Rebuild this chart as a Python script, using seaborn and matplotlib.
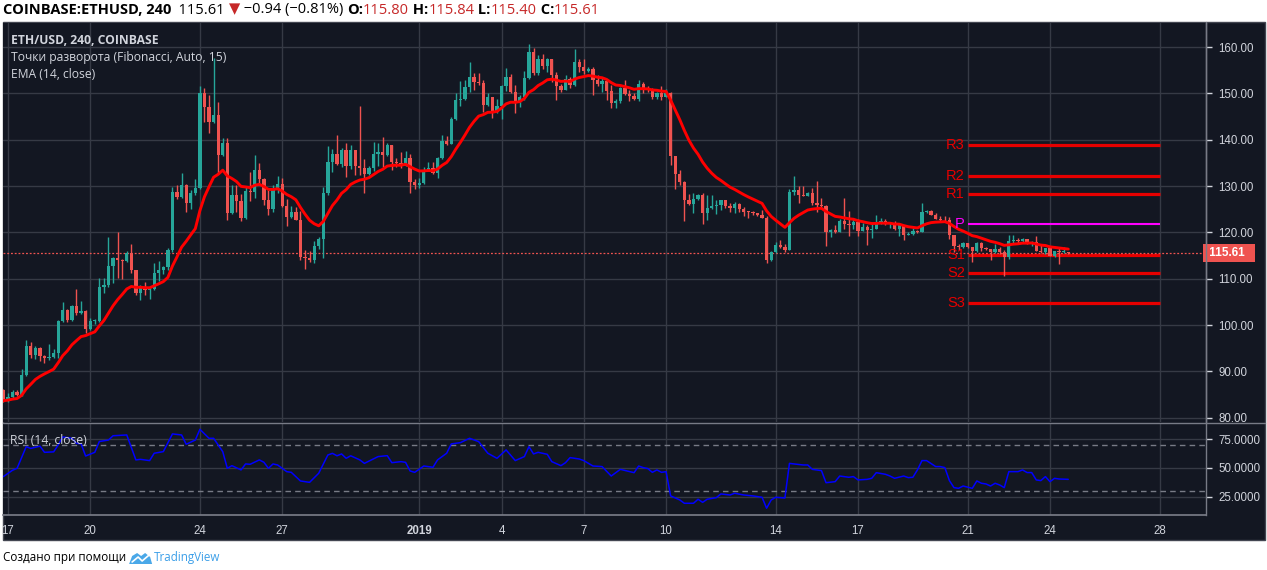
import numpy as np
import pandas as pd
import matplotlib
matplotlib.use('Agg')
from matplotlib import pyplot as plt
import matplotlib.transforms as mtransforms
from matplotlib.patches import Rectangle, Polygon
from matplotlib.lines import Line2D
import seaborn as sns

# --- data (4h candles, first bar 2018-12-16 20:00) ---
first_open = 86.1
closes = [83.7, 84.6, 85.5, 85.0, 89.3, 95.4, 93.6, 95.0, 93.3, 93.0, 93.2, 93.9, 101.0, 103.3, 101.2, 104.2,
          102.6, 103.1, 99.2, 100.9, 101.0, 108.3, 108.6, 112.8, 114.5, 114.1, 113.9, 115.5, 111.9, 106.9, 108.3,
          107.5, 107.9, 111.2, 111.8, 112.5, 116.2, 128.8, 127.7, 130.3, 126.3, 128.5, 129.5, 150.0, 147.1, 143.9,
          145.3, 136.7, 139.2, 124.1, 128.1, 126.8, 123.1, 129.0, 128.8, 133.5, 131.6, 127.0, 125.1, 129.2, 130.5,
          125.7, 123.4, 124.5, 122.7, 114.8, 114.5, 114.1, 117.0, 118.5, 128.5, 135.3, 136.9, 134.8, 137.8, 134.4,
          137.7, 134.4, 134.0, 132.6, 134.0, 136.9, 137.4, 136.7, 138.9, 135.3, 134.9, 134.4, 136.1, 130.8, 130.3,
          130.6, 133.5, 133.9, 132.9, 136.1, 139.7, 139.1, 144.5, 148.6, 148.9, 151.3, 153.5, 152.5, 152.3, 147.5,
          149.2, 146.1, 147.3, 151.6, 153.6, 150.4, 147.9, 149.3, 153.3, 158.9, 154.5, 157.4, 155.9, 157.4, 154.0,
          151.6, 150.7, 153.2, 151.8, 156.7, 155.6, 154.9, 155.3, 152.9, 152.0, 152.7, 150.6, 147.9, 148.4, 151.1,
          149.9, 149.5, 148.8, 152.0, 150.9, 150.7, 149.3, 150.2, 149.3, 150.0, 136.4, 132.6, 130.8, 126.9, 126.2,
          127.2, 128.1, 124.3, 125.2, 125.7, 126.0, 127.0, 125.7, 125.2, 126.1, 125.1, 124.5, 124.4, 124.2, 123.8,
          123.2, 114.1, 115.7, 117.3, 116.8, 116.2, 128.7, 129.1, 128.1, 127.9, 128.5, 126.3, 125.9, 125.7, 120.0,
          120.6, 120.0, 122.5, 121.9, 121.7, 122.2, 120.4, 121.1, 120.6, 120.8, 122.1, 122.5, 121.8, 122.0, 120.7,
          121.6, 119.5, 119.6, 120.3, 120.1, 124.5, 124.6, 123.8, 122.9, 122.7, 122.6, 119.5, 117.0, 116.8, 117.7,
          116.8, 115.9, 117.8, 116.6, 116.4, 115.7, 116.5, 115.7, 114.8, 118.2, 118.3, 118.1, 118.6, 117.7, 118.0,
          116.1, 115.7, 116.6, 115.0, 116.0, 115.8, 115.8, 115.61]
highs = [86.2, 85.3, 85.9, 85.9, 90.5, 96.9, 96.3, 95.6, 95.2, 93.5, 96.0, 94.8, 101.2, 104.9, 103.4, 104.4,
         107.8, 105.3, 103.2, 101.5, 101.4, 110.2, 110.2, 119.1, 114.6, 120.2, 114.3, 115.9, 117.6, 112.0, 108.6,
         109.3, 108.3, 113.4, 113.8, 112.7, 116.6, 129.9, 130.2, 132.9, 130.4, 129.2, 131.6, 151.5, 151.1, 149.7,
         157.6, 148.2, 140.3, 140.3, 130.2, 130.2, 128.2, 129.8, 133.1, 136.7, 135.0, 131.7, 129.2, 130.3, 132.1,
         131.7, 127.2, 125.7, 125.6, 124.7, 116.3, 116.0, 118.1, 119.0, 129.9, 138.7, 138.1, 141.0, 138.2, 139.2,
         138.9, 137.8, 147.3, 135.8, 134.4, 139.5, 139.2, 140.7, 139.3, 138.9, 136.1, 137.3, 137.6, 136.9, 131.5,
         131.7, 134.2, 135.3, 135.3, 136.3, 141.0, 140.8, 145.0, 150.0, 152.7, 153.0, 156.7, 154.4, 154.4, 152.8,
         150.0, 149.3, 148.7, 151.8, 155.4, 154.3, 151.8, 149.6, 154.9, 160.6, 159.8, 158.3, 158.6, 157.7, 157.4,
         154.6, 152.0, 153.9, 153.6, 159.6, 157.4, 157.4, 155.8, 155.6, 153.9, 153.4, 152.8, 151.8, 148.8, 151.4,
         152.9, 150.7, 150.0, 152.9, 152.5, 151.6, 151.1, 150.4, 151.6, 150.9, 150.4, 136.5, 133.4, 131.1, 128.4,
         128.6, 128.2, 128.5, 128.0, 128.1, 127.1, 127.1, 127.1, 126.3, 126.6, 126.3, 125.6, 124.7, 124.6, 124.3,
         124.8, 123.6, 116.1, 118.0, 118.3, 117.6, 129.4, 132.2, 130.0, 130.0, 128.7, 129.5, 131.0, 127.4, 125.9,
         120.8, 121.6, 123.0, 127.4, 124.6, 123.0, 123.0, 122.0, 121.7, 121.9, 123.7, 123.2, 123.0, 122.2, 122.4,
         122.0, 121.4, 120.1, 120.9, 120.5, 126.4, 124.9, 124.9, 124.2, 123.5, 123.5, 123.4, 119.5, 117.6, 118.0,
         117.7, 116.9, 118.0, 118.0, 116.8, 116.5, 117.5, 116.8, 116.3, 119.5, 119.5, 118.8, 118.8, 118.6, 118.1,
         119.2, 117.6, 116.6, 116.8, 116.0, 116.6, 116.8, 115.84]
lows = [83.5, 83.5, 84.2, 84.7, 84.8, 89.0, 92.9, 92.8, 92.2, 91.8, 92.5, 93.0, 93.0, 100.7, 100.6, 101.0,
        102.2, 102.3, 98.3, 98.9, 100.3, 100.7, 107.0, 108.2, 109.1, 110.1, 109.9, 113.6, 111.2, 106.6, 105.5,
        106.5, 105.6, 107.6, 109.5, 111.1, 111.9, 115.8, 127.3, 127.5, 124.5, 125.0, 128.0, 129.3, 143.9, 141.5,
        143.7, 132.7, 136.5, 122.7, 124.0, 124.5, 122.4, 123.0, 126.7, 127.4, 130.3, 126.0, 123.7, 124.5, 128.5,
        125.5, 121.4, 123.2, 122.6, 114.1, 112.2, 113.6, 113.5, 116.4, 114.5, 128.1, 133.1, 134.6, 134.1, 131.9,
        133.7, 132.5, 132.5, 128.5, 132.4, 133.2, 134.4, 134.2, 136.5, 133.5, 134.2, 133.9, 134.3, 128.6, 129.3,
        129.5, 130.5, 133.2, 132.7, 131.7, 135.9, 138.9, 139.1, 144.3, 147.2, 148.5, 150.4, 150.7, 151.9, 146.1,
        147.3, 144.6, 145.7, 144.4, 150.5, 150.0, 145.8, 147.1, 148.5, 153.1, 154.0, 154.0, 155.2, 154.7, 152.5,
        148.6, 150.4, 150.7, 151.1, 151.6, 154.7, 154.3, 154.6, 149.7, 151.5, 150.4, 148.6, 146.9, 146.9, 148.0,
        149.7, 148.4, 148.6, 148.4, 150.1, 150.4, 148.9, 148.9, 148.6, 149.3, 134.6, 129.4, 130.2, 122.4, 126.0,
        124.3, 126.9, 121.9, 122.6, 125.1, 123.9, 124.9, 125.2, 124.5, 124.1, 124.5, 123.5, 123.1, 123.7, 123.5,
        123.1, 113.5, 113.9, 115.5, 116.6, 115.8, 116.2, 128.0, 126.3, 127.8, 127.8, 126.0, 124.5, 125.2, 117.0,
        119.1, 119.9, 120.0, 120.7, 119.3, 120.8, 119.3, 120.3, 117.3, 118.8, 120.7, 121.8, 121.6, 121.0, 120.5,
        119.3, 118.3, 119.4, 119.4, 119.9, 120.0, 124.3, 123.7, 122.8, 122.5, 122.4, 118.6, 115.8, 116.2, 116.7,
        116.6, 113.7, 115.7, 116.1, 116.2, 114.1, 115.6, 115.3, 110.5, 114.3, 117.7, 117.8, 118.0, 117.6, 117.1,
        116.0, 115.5, 115.3, 114.9, 114.8, 113.3, 115.6, 115.40]
last_price = 115.61

pivot_names = ['R3', 'R2', 'R1', 'P', 'S1', 'S2', 'S3']
pivot_levels = [138.9, 132.2, 128.3, 121.8, 115.1, 111.3, 104.8]

rsi_bars = [-1, 1, 2, 4, 5, 7, 8, 10, 11, 12, 14, 15, 16, 17, 19, 20, 22, 23, 26, 28, 29, 31, 32, 34, 36, 38, 39,
            41, 42, 44, 45, 47, 48, 49, 51, 52, 53, 55, 56, 57, 58, 59, 61, 62, 64, 66, 68, 70, 71, 72, 73, 74, 75,
            77, 78, 81, 83, 84, 86, 87, 88, 89, 91, 93, 94, 96, 97, 99, 101, 103, 105, 107, 109, 111, 113, 114, 115,
            116, 118, 119, 121, 122, 123, 125, 126, 128, 130, 132, 134, 137, 138, 139, 140, 141, 142, 143, 144, 145,
            147, 148, 150, 151, 152, 153, 155, 156, 158, 159, 161, 163, 165, 166, 167, 168, 170, 171, 172, 174, 175,
            176, 178, 179, 181, 182, 184, 185, 186, 188, 189, 190, 192, 193, 194, 196, 197, 198, 199, 200, 201, 203,
            204, 205, 206, 207, 208, 209, 211, 212, 213, 214, 215, 216, 217, 218, 219, 221, 222, 223, 224, 225, 226,
            227, 228, 229, 230, 232]
rsi_values = [42.5, 48.0, 49.7, 68.5, 67.0, 69.0, 63.6, 64.0, 70.0, 77.0, 75.8, 71.4, 71.0, 60.4, 63.6, 73.0, 74.3,
              78.0, 78.7, 57.0, 57.5, 56.4, 62.8, 64.2, 79.6, 78.7, 70.6, 74.3, 83.6, 75.8, 75.8, 64.2, 49.7, 52.0,
              48.3, 53.5, 53.2, 57.0, 55.0, 49.7, 53.5, 52.6, 46.8, 46.2, 38.7, 37.5, 45.4, 61.3, 62.7, 60.6, 62.2,
              58.4, 60.6, 57.0, 54.0, 59.9, 60.7, 54.6, 55.5, 54.9, 47.4, 46.2, 51.7, 50.6, 57.0, 62.8, 70.9, 72.0,
              75.8, 72.9, 62.8, 58.4, 65.7, 56.4, 59.9, 68.5, 62.2, 63.6, 61.9, 55.5, 52.0, 54.6, 59.0, 57.8, 56.4,
              51.7, 51.2, 43.0, 48.8, 45.9, 51.7, 50.3, 49.5, 46.2, 48.3, 46.2, 46.8, 25.7, 22.2, 19.3, 19.3, 22.8,
              20.1, 22.8, 24.2, 27.4, 26.5, 28.0, 26.5, 25.7, 24.5, 15.0, 22.2, 24.5, 23.9, 54.0, 53.5, 52.6, 52.6,
              48.8, 47.7, 37.2, 38.1, 43.0, 41.9, 42.5, 39.6, 40.1, 41.0, 45.9, 44.5, 43.0, 41.0, 43.0, 41.6, 41.9,
              48.3, 56.4, 56.4, 51.2, 51.2, 50.3, 39.0, 32.9, 32.3, 34.3, 32.3, 38.7, 36.7, 36.1, 34.3, 36.7, 35.2,
              32.9, 46.8, 46.8, 48.3, 46.0, 46.0, 39.6, 39.0, 42.5, 38.1, 41.0, 40.4, 40.1]

tick_dates = ['2018-12-17', '2018-12-20', '2018-12-24', '2018-12-27', '2019-01-01', '2019-01-04', '2019-01-07',
              '2019-01-10', '2019-01-14', '2019-01-17', '2019-01-21', '2019-01-24', '2019-01-28']
tick_labels = ['17', '20', '24', '27', '2019', '4', '7', '10', '14', '17', '21', '24', '28']

BG = '#131722'
GRID = '#363a45'
AXIS = '#787b86'
TXT = '#d1d4dc'
UP = '#26a69a'
DOWN = '#ef5350'

sns.set_theme(style='dark', rc={'axes.facecolor': BG, 'figure.facecolor': 'white'})
plt.rcParams['font.family'] = ['Open Sans', 'DejaVu Sans']

W, H = 1267, 570


def fx(x):
    return x / W


def fy(y):
    return 1 - y / H


fig = plt.figure(figsize=(W / 100, H / 100), dpi=100)
fig.patches.append(Rectangle((fx(3), fy(540)), fx(1262), 518 / H, transform=fig.transFigure,
                             facecolor=BG, edgecolor='#434651', lw=1, zorder=-5))

ax = fig.add_axes([fx(3), fy(422), fx(1203), 399 / H])
ax_rsi = fig.add_axes([fx(3), fy(515), fx(1203), 92 / H], sharex=ax)

t0 = pd.Timestamp('2018-12-17')
df = pd.DataFrame({'time': pd.date_range('2018-12-16 20:00', periods=len(closes), freq='4h'),
                   'close': closes, 'high': highs, 'low': lows})
df['open'] = [first_open] + closes[:-1]
df['ema'] = df['close'].ewm(span=14, adjust=False).mean()
colors = np.where(df['close'] >= df['open'], UP, DOWN)

# candles
ax.vlines(df['time'], df['low'], df['high'], colors=colors, lw=1, zorder=3)
body_lo = df[['open', 'close']].min(axis=1)
body_h = (df['close'] - df['open']).abs().clip(lower=0.15)
ax.bar(df['time'], body_h, bottom=body_lo, width=0.72 / 6, color=colors, lw=0, zorder=4)

sns.lineplot(data=df, x='time', y='ema', color='#ff0000', lw=2.1, ax=ax, zorder=5)

# pivot points (Fibonacci)
p_start, p_end = pd.Timestamp('2019-01-21'), pd.Timestamp('2019-01-28')
for name, lvl in zip(pivot_names, pivot_levels):
    c = '#ff00ff' if name == 'P' else '#e60000'
    ax.hlines(lvl, p_start, p_end, colors=c, lw=1.5 if name == 'P' else 2.3, zorder=2)
    ax.annotate(name, xy=(p_start, lvl), xytext=(-2, 0), textcoords='offset points', ha='right',
                va='center', color=c, fontsize=10.5, zorder=6, family=['Liberation Sans', 'DejaVu Sans'])

ax.axhline(last_price, color=DOWN, ls=(0, (1.5, 1.5)), lw=0.9, zorder=2)
blend = mtransforms.blended_transform_factory(ax.transAxes, ax.transData)
ax.text(1.0, last_price, ' 115.61  ', transform=blend, ha='left', va='center', color='white',
        fontsize=8.5, fontweight='bold', family=['Liberation Sans', 'DejaVu Sans'],
        bbox=dict(boxstyle='square,pad=0.28', fc=DOWN, ec='none'), zorder=10, clip_on=False)

# RSI pane
rsi = pd.DataFrame({'time': t0 + pd.to_timedelta(np.array(rsi_bars) * 4, unit='h'), 'rsi': rsi_values})
sns.lineplot(data=rsi, x='time', y='rsi', color='#0000ff', lw=1.1, ax=ax_rsi, zorder=5)
for lvl in (70, 30):
    ax_rsi.axhline(lvl, color=AXIS, ls=(0, (4, 3)), lw=1, zorder=2)

# axes styling
ax.set_xlim(t0 - pd.Timedelta(days=0.18), t0 + pd.Timedelta(days=43.69))
ax.set_ylim(79.1, 165.2)
ax_rsi.set_ylim(9.1, 89.1)
ax.set_yticks(range(80, 161, 10))
ax.set_yticklabels([f'{v:.2f}' for v in range(80, 161, 10)])
ax_rsi.set_yticks([25, 50, 75])
ax_rsi.set_yticklabels(['25.0000', '50.0000', '75.0000'])
ax_rsi.set_xticks(pd.to_datetime(tick_dates))
ax_rsi.set_xticklabels(tick_labels)
for lab in ax_rsi.get_xticklabels():
    if lab.get_text() == '2019':
        lab.set_fontweight('bold')

for a in (ax, ax_rsi):
    a.set_xlabel('')
    a.set_ylabel('')
    a.yaxis.tick_right()
    a.grid(True, color=GRID, lw=1, zorder=0)
    a.set_axisbelow(True)
    for s in ('left', 'top', 'bottom'):
        a.spines[s].set_visible(False)
    a.spines['right'].set_color(AXIS)
    a.spines['right'].set_linewidth(1)
    a.tick_params(axis='y', colors=TXT, labelsize=8.3, length=4, width=1, pad=5, direction='out')
    for t in a.yaxis.get_ticklines(minor=False):
        t.set_color(AXIS)
    for lab in a.get_yticklabels():
        lab.set_family(['Liberation Sans', 'DejaVu Sans'])

ax.tick_params(axis='x', bottom=False, labelbottom=False)
ax_rsi.spines['bottom'].set_visible(True)
ax_rsi.spines['bottom'].set_color(AXIS)
ax_rsi.tick_params(axis='x', colors=TXT, labelsize=8.3, length=4, width=1, pad=3, direction='out')
for t in ax_rsi.xaxis.get_ticklines():
    t.set_color(AXIS)
for lab in ax_rsi.get_xticklabels():
    lab.set_family(['Liberation Sans', 'DejaVu Sans'])

# pane separator and axis line up to the frame top
fig.add_artist(Line2D([fx(3), fx(1265)], [fy(422.5), fy(422.5)], color=AXIS, lw=1))
fig.add_artist(Line2D([fx(1206), fx(1206)], [fy(22), fy(422)], color=AXIS, lw=1))

# legends inside panes
fig.text(fx(11), fy(41), 'ETH/USD, 240, COINBASE', color=TXT, fontsize=8.7, fontweight='bold', va='center')
fig.text(fx(11), fy(58), 'Точки разворота (Fibonacci, Auto, 15)', color=TXT, fontsize=8.7, va='center')
fig.text(fx(11), fy(74), 'EMA (14, close)', color=TXT, fontsize=8.7, va='center')
fig.text(fx(10), fy(440), 'RSI (14, close)', color=TXT, fontsize=8.7, va='center')

# header line
renderer = fig.canvas.get_renderer()
pieces = [('COINBASE:ETHUSD, 240', 'bold', 'black'), ('  115.61 ', 'normal', 'black'),
          ('\u25bc', 'normal', '#c62828'), (' \u22120.94 (\u22120.81%) ', 'normal', 'black'),
          ('O:', 'bold', 'black'), ('115.80', 'normal', '#c62828'), (' H:', 'bold', 'black'),
          ('115.84', 'normal', '#c62828'), (' L:', 'bold', 'black'), ('115.40', 'normal', '#c62828'),
          (' C:', 'bold', 'black'), ('115.61', 'normal', '#c62828')]
x = 3.0
for s, w, c in pieces:
    t = fig.text(fx(x), fy(10), s, color=c, fontsize=10.5, fontweight=w, va='center')
    x += t.get_window_extent(renderer).width

# footer
t = fig.text(fx(3), fy(558), 'Создано при помощи', color='black', fontsize=8.4, va='center')
x = 3 + t.get_window_extent(renderer).width + 3
logo = [(x, 564), (x + 3, 556), (x + 8, 553), (x + 12, 556), (x + 16, 553), (x + 21, 557), (x + 23, 564)]
fig.patches.append(Polygon([(fx(a), fy(b)) for a, b in logo], closed=True, transform=fig.transFigure,
                           fc='#4aa8e8', ec='none'))
fig.add_artist(Line2D([fx(x + 3), fx(x + 9), fx(x + 13), fx(x + 20)], [fy(562), fy(557), fy(561), fy(555)],
                      color='white', lw=1.2))
fig.text(fx(x + 25), fy(558), 'TradingView', color='#3c9fe8', fontsize=8.4, va='center')

fig.savefig('out.png', dpi=100)
